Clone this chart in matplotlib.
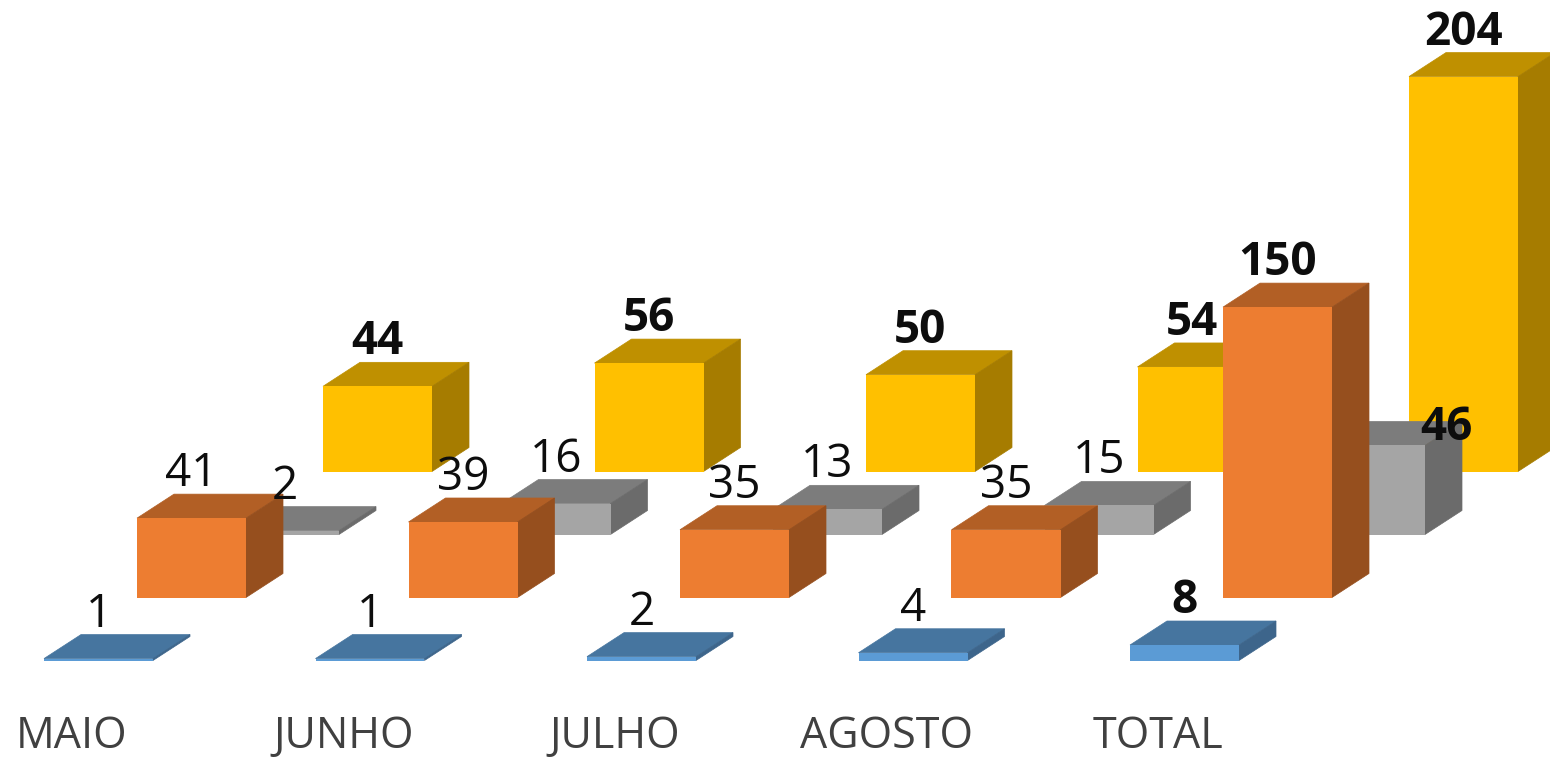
import matplotlib
matplotlib.use("Agg")
import matplotlib.pyplot as plt

categories = ["MAIO", "JUNHO", "JULHO", "AGOSTO", "TOTAL"]
serie_azul = [1, 1, 2, 4, 8]
serie_laranja = [41, 39, 35, 35, 150]
serie_cinza = [2, 16, 13, 15, 46]
serie_amarela = [44, 56, 50, 54, 204]

# back to front: (values, depth row, front, top, side, bold labels)
rows = [
    (serie_amarela, 3, "#FFC000", "#BF9000", "#A67C00", True),
    (serie_cinza, 2, "#A5A5A5", "#7C7C7C", "#6B6B6B", False),
    (serie_laranja, 1, "#ED7D31", "#B25F25", "#964F1E", False),
    (serie_azul, 0, "#5B9BD5", "#46759F", "#3D658B", False),
]

W, H = 1550, 757
CAT_STEP = 271.5  # px per category
VAL_SCALE = 1.936  # px per unit
BASE_Y = 660.5  # blue baseline, px from top
AX_BOTTOM = 700  # axes bottom, px from top
FIRST_CAT = 72  # px centre of the first category label

# offsets in data units
bar_w = 109 / CAT_STEP
bar_left = -28 / CAT_STEP
row_dx = 93 / CAT_STEP
row_dy = 63 / VAL_SCALE
depth_x = 37 / CAT_STEP
depth_y = 24 / VAL_SCALE
label_gap = 8 / VAL_SCALE

fig = plt.figure(figsize=(W / 100, H / 100), dpi=100, facecolor="white")
ax = fig.add_axes([0, (H - AX_BOTTOM) / H, 1, AX_BOTTOM / H])
ax.set_xlim(-FIRST_CAT / CAT_STEP, (W - FIRST_CAT) / CAT_STEP)
ax.set_ylim(-(AX_BOTTOM - BASE_Y) / VAL_SCALE, BASE_Y / VAL_SCALE)

font = "Open Sans"
for values, row, front, top, side, bold in rows:
    base = row * row_dy
    for i, v in enumerate(values):
        x0 = i + bar_left + row * row_dx
        x1 = x0 + bar_w
        y1 = base + v
        ax.fill([x0, x1, x1 + depth_x, x0 + depth_x],
                [y1, y1, y1 + depth_y, y1 + depth_y], color=top, linewidth=0.5)
        ax.fill([x1, x1 + depth_x, x1 + depth_x, x1],
                [base, base + depth_y, y1 + depth_y, y1], color=side, linewidth=0.5)
        ax.bar(x0, v, bar_w, bottom=base, align="edge", color=front, linewidth=0)

# labels go on top of every bar
for values, row, front, top, side, bold in rows:
    base = row * row_dy
    for i, v in enumerate(values):
        x = i + bar_left + row * row_dx + bar_w / 2
        y = base + v + depth_y + label_gap
        heavy = bold or i == len(values) - 1
        if v == 46:
            # this one was moved by hand in the original
            x += 76 / CAT_STEP
            y -= 27 / VAL_SCALE
        ax.text(x, y, str(v), ha="center", va="baseline", color="#0D0D0D",
                fontsize=33, family=font, fontweight="bold" if heavy else "normal")

ax.set_xticks(range(len(categories)), categories)
ax.tick_params(axis="x", length=0, pad=10.5, labelsize=31, labelcolor="#404040")
for lab in ax.get_xticklabels():
    lab.set_family(font)
ax.set_yticks([])
for s in ax.spines.values():
    s.set_visible(False)
ax.patch.set_visible(False)

fig.savefig("out.png", dpi=100)
